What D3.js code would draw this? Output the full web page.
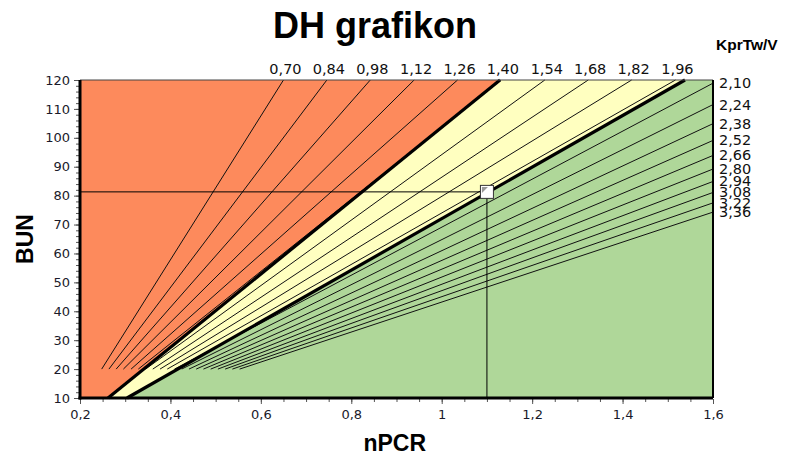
<!DOCTYPE html>
<html>
<head>
<meta charset="utf-8">
<script src="https://cdn.jsdelivr.net/npm/d3@7"></script>
<style>
  body { margin: 0; background: #fff; }
  svg { display: block; font-family: "DejaVu Sans", sans-serif; }
</style>
</head>
<body>
<div class="chart"></div>
<script>
// KprTw/V lines: label, start (nPCR at BUN 20), end point (nPCR, BUN)
var kLabels = ["0,70", "0,84", "0,98", "1,12", "1,26", "1,40", "1,54", "1,68", "1,82", "1,96",
               "2,10", "2,24", "2,38", "2,52", "2,66", "2,80", "2,94", "3,08", "3,22", "3,36"];
var startN = [0.248, 0.264, 0.280, 0.296, 0.313, 0.329, 0.345, 0.361, 0.377, 0.393,
              0.409, 0.425, 0.441, 0.457, 0.473, 0.489, 0.505, 0.521, 0.537, 0.553];
var startB = 20;
var endN = [0.650, 0.746, 0.842, 0.939, 1.035, 1.131, 1.228, 1.324, 1.420, 1.517,
            1.6, 1.6, 1.6, 1.6, 1.6, 1.6, 1.6, 1.6, 1.6, 1.6];
var endB = [120, 120, 120, 120, 120, 120, 120, 120, 120, 120,
            118.9, 111.5, 104.9, 99.1, 93.9, 89.2, 84.9, 81.1, 77.5, 74.3];

// zone borders (thick lines)
var redEdge = [[0.262, 10], [1.129, 120]];
var greenEdge = [[0.304, 10], [1.538, 120]];

// current patient point
var pointN = 1.1;
var pointB = 81.3;

var xTickValues = [0.2, 0.4, 0.6, 0.8, 1.0, 1.2, 1.4, 1.6];
var xTickLabels = ["0,2", "0,4", "0,6", "0,8", "1", "1,2", "1,4", "1,6"];
var yTickValues = [10, 20, 30, 40, 50, 60, 70, 80, 90, 100, 110, 120];

var svgWidth = 799;
var svgHeight = 457;
var margin = { top: 80, right: 86, bottom: 59, left: 80 };
var width = svgWidth - margin.left - margin.right;
var height = svgHeight - margin.top - margin.bottom;

var svg = d3.select(".chart").append("svg")
  .attr("width", svgWidth)
  .attr("height", svgHeight);

var chartGroup = svg.append("g")
  .attr("transform", `translate(${margin.left}, ${margin.top})`);

var x = d3.scaleLinear().domain([0.2, 1.6]).range([0, width]);
var y = d3.scaleLinear().domain([10, 120]).range([height, 0]);

var area = d3.line().x(d => x(d[0])).y(d => y(d[1]));

// colour zones
var redZone = [[0.2, 10], redEdge[0], redEdge[1], [0.2, 120]];
var yellowZone = [redEdge[0], greenEdge[0], greenEdge[1], redEdge[1]];
var greenZone = [greenEdge[0], [1.6, 10], [1.6, 120], greenEdge[1]];

chartGroup.append("path").attr("d", area(redZone) + "Z").attr("fill", "#fd8a5c");
chartGroup.append("path").attr("d", area(yellowZone) + "Z").attr("fill", "#ffffc0");
chartGroup.append("path").attr("d", area(greenZone) + "Z").attr("fill", "#afd799");

// thin KprTw/V lines
chartGroup.selectAll(".kline")
  .data(kLabels)
  .enter()
  .append("line")
  .attr("class", "kline")
  .attr("x1", (d, i) => x(startN[i]))
  .attr("y1", y(startB))
  .attr("x2", (d, i) => x(endN[i]))
  .attr("y2", (d, i) => y(endB[i]))
  .attr("stroke", "#111")
  .attr("stroke-width", 1);

// thick borders
[redEdge, greenEdge].forEach(function(e) {
  chartGroup.append("path")
    .attr("d", area(e))
    .attr("stroke", "#000")
    .attr("stroke-width", 3.2)
    .attr("fill", "none");
});

// crosshair
chartGroup.append("line")
  .attr("x1", x(0.2)).attr("x2", x(pointN))
  .attr("y1", y(pointB)).attr("y2", y(pointB))
  .attr("stroke", "#000").attr("stroke-width", 1);
chartGroup.append("line")
  .attr("x1", x(pointN)).attr("x2", x(pointN))
  .attr("y1", y(pointB)).attr("y2", y(10))
  .attr("stroke", "#000").attr("stroke-width", 1);

// marker
var mk = chartGroup.append("g")
  .attr("transform", `translate(${x(pointN)}, ${y(pointB)})`);
mk.append("rect")
  .attr("x", -6.5).attr("y", -6.5)
  .attr("width", 13).attr("height", 13)
  .attr("fill", "#fff")
  .attr("stroke", "#333")
  .attr("stroke-width", 1);
mk.append("path")
  .attr("d", "M-5,-5 L1,-5 L-5,1 Z")
  .attr("fill", "#999");

// labels on line ends
chartGroup.selectAll(".klabel")
  .data(kLabels)
  .enter()
  .append("text")
  .attr("class", "klabel")
  .attr("x", (d, i) => endB[i] === 120 ? x(endN[i]) + 2 : x(endN[i]) + 6)
  .attr("y", (d, i) => endB[i] === 120 ? y(120) - 6 : y(endB[i]) + 5)
  .attr("text-anchor", (d, i) => endB[i] === 120 ? "middle" : "start")
  .attr("font-size", "14.5px")
  .attr("fill", "#111")
  .text(d => d);

// axes
var xAxis = d3.axisBottom(x)
  .tickValues(xTickValues)
  .tickFormat((d, i) => xTickLabels[i])
  .tickSize(5)
  .tickPadding(6);
var xMinor = d3.axisBottom(x)
  .tickValues(d3.range(0.2, 1.6001, 0.05))
  .tickFormat("")
  .tickSize(3);
var yAxis = d3.axisLeft(y)
  .tickValues(yTickValues)
  .tickSize(5)
  .tickPadding(4);
var yMinor = d3.axisLeft(y)
  .tickValues(d3.range(10, 120.01, 2))
  .tickFormat("")
  .tickSize(3);

[xMinor, xAxis].forEach(function(ax) {
  chartGroup.append("g")
    .attr("transform", `translate(0, ${height + 1})`)
    .call(ax)
    .call(g => g.select(".domain").remove());
});
[yMinor, yAxis].forEach(function(ax) {
  chartGroup.append("g")
    .attr("transform", "translate(-1, 0)")
    .call(ax)
    .call(g => g.select(".domain").remove());
});
chartGroup.selectAll(".tick line").attr("stroke", "#555");
chartGroup.selectAll(".tick text")
  .attr("font-family", "DejaVu Sans, sans-serif")
  .attr("font-size", "13px")
  .attr("fill", "#1a1a2a");

// frame
chartGroup.append("line").attr("x1", 0).attr("x2", width).attr("y1", 0).attr("y2", 0)
  .attr("stroke", "#444").attr("stroke-width", 1);
chartGroup.append("line").attr("x1", width).attr("x2", width).attr("y1", 0).attr("y2", height)
  .attr("stroke", "#000").attr("stroke-width", 2);
chartGroup.append("line").attr("x1", 0).attr("x2", 0).attr("y1", 0).attr("y2", height + 1.5)
  .attr("stroke", "#000").attr("stroke-width", 3);
chartGroup.append("line").attr("x1", -1.5).attr("x2", width).attr("y1", height).attr("y2", height)
  .attr("stroke", "#000").attr("stroke-width", 3);

// titles
svg.append("text")
  .attr("x", 375).attr("y", 38)
  .attr("text-anchor", "middle")
  .attr("font-family", "Liberation Sans, Arial, sans-serif")
  .attr("font-weight", "bold")
  .attr("font-size", "36px")
  .text("DH grafikon");

svg.append("text")
  .attr("x", 716).attr("y", 50)
  .attr("font-family", "Liberation Sans, Arial, sans-serif")
  .attr("font-weight", "bold")
  .attr("font-size", "15.5px")
  .text("KprTw/V");

svg.append("text")
  .attr("x", margin.left + x(1.0) - 47).attr("y", 451)
  .attr("text-anchor", "middle")
  .attr("font-family", "Liberation Sans, Arial, sans-serif")
  .attr("font-weight", "bold")
  .attr("font-size", "23px")
  .text("nPCR");

svg.append("text")
  .attr("transform", `translate(33, ${margin.top + height / 2}) rotate(-90)`)
  .attr("text-anchor", "middle")
  .attr("font-family", "Liberation Sans, Arial, sans-serif")
  .attr("font-weight", "bold")
  .attr("font-size", "23px")
  .text("BUN");
</script>
</body>
</html>
